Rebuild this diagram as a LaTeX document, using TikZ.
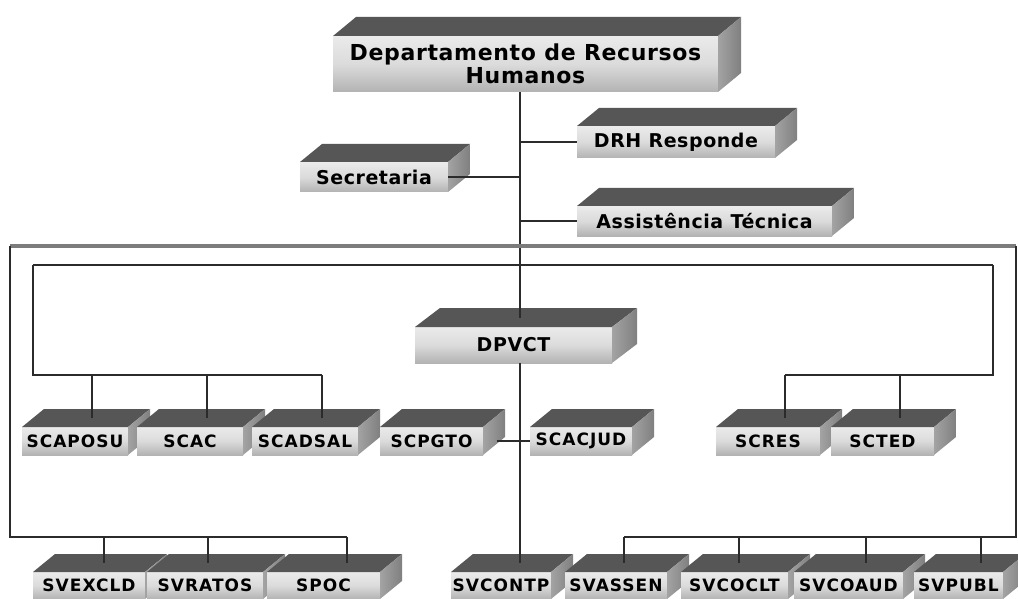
\documentclass[tikz,border=0pt]{standalone}
\usepackage{fontspec}
\setmainfont{DejaVu Sans}
\newfontfamily\bigfont{DejaVu Sans}[LetterSpace=3]
\newfontfamily\midfont{DejaVu Sans}[LetterSpace=3]
\newfontfamily\smlfont{DejaVu Sans}[LetterSpace=6]
\definecolor{topgrey}{HTML}{565656}
\definecolor{lineblack}{HTML}{2B2B2B}
\definecolor{busgrey}{HTML}{7C7C7C}

% depth of the extruded boxes (up and to the right)
\def\slabdx{22pt}
\def\slabdy{18pt}

% \slab[options]{name}{x0}{y0}{x1}{y1}{text}: front face plus top and side faces
\newcommand\slab[7][]{%
  \node[front,#1,anchor=north west,
        minimum width={(#5-#3)*1pt},minimum height={(#6-#4)*1pt}] (#2) at (#3,#4) {#7};
  \fill[topgrey] (#2.north west) -- ++(\slabdx,\slabdy)
     -- ([shift={(\slabdx,\slabdy)}]#2.north east) -- (#2.north east) -- cycle;
  \shade[left color=black!36,right color=black!50]
     (#2.north east) -- ++(\slabdx,\slabdy)
     -- ([shift={(\slabdx,\slabdy)}]#2.south east) -- (#2.south east) -- cycle;
  \coordinate (#2-top) at ([shift={(0.5*\slabdx,0.5*\slabdy)}]#2.north);
}

\begin{document}
\begin{tikzpicture}[x=1pt,y=-1pt,
  front/.style={rectangle,inner sep=0pt,outer sep=0pt,text=black,
    top color=black!8,bottom color=black!30,middle color=black!14,
    font=\smlfont\bfseries\fontsize{17}{19}\selectfont},
  bigtext/.style={font=\bigfont\bfseries\fontsize{22}{23}\selectfont,align=center},
  midtext/.style={font=\midfont\bfseries\fontsize{19}{21}\selectfont},
  conn/.style={draw=lineblack,line width=2pt},
  bus/.style={draw=busgrey,line width=3.5pt}]
\useasboundingbox[fill=white] (0,0) rectangle (1018,599);

% ---- boxes ----
{\def\slabdx{23pt}\def\slabdy{19pt}
 \slab[bigtext]{dep}{333}{36}{718}{92}{Departamento de Recursos\\Humanos}}
\slab[midtext]{drh}{577}{126}{775}{158}{DRH Responde}
\slab[midtext]{sec}{300}{162}{448}{192}{Secretaria}
\slab[midtext]{ast}{577}{206}{832}{236}{Assistência Técnica}
{\def\slabdx{25pt}\def\slabdy{19pt}
 \slab[midtext]{dpvct}{415}{327}{612}{363}{DPVCT}}

\slab{scaposu}{22}{427}{128}{455}{SCAPOSU}
\slab{scac}{137}{427}{243}{455}{SCAC}
\slab{scadsal}{252}{427}{358}{455}{SCADSAL}
\slab{scpgto}{380}{427}{483}{455}{SCPGTO}
\slab{scacjud}{530}{427}{632}{455}{SCACJUD}
\slab{scres}{716}{427}{820}{455}{SCRES}
\slab{scted}{831}{427}{934}{455}{SCTED}

\slab{svexcld}{33}{572}{145}{599}{SVEXCLD}
\slab{svratos}{147}{572}{263}{599}{SVRATOS}
\slab{spoc}{267}{572}{380}{599}{SPOC}
\slab{svcontp}{451}{572}{551}{599}{SVCONTP}
\slab{svassen}{565}{572}{667}{599}{SVASSEN}
\slab{svcoclt}{681}{572}{788}{599}{SVCOCLT}
\slab{svcoaud}{794}{572}{903}{599}{SVCOAUD}
\slab{svpubl}{914}{572}{1003}{599}{SVPUBL}

% ---- junctions and bus corners ----
\coordinate (sp)  at (520,246);
\coordinate (oNW) at (10,246);   \coordinate (oNE) at (1016,246);
\coordinate (oSW) at (10,537);   \coordinate (oSE) at (1016,537);
\coordinate (iNW) at (33,265);   \coordinate (iNE) at (993,265);
\coordinate (iSW) at (33,375);   \coordinate (iSE) at (993,375);

\coordinate (tap-scaposu) at (92,375);
\coordinate (tap-scac)    at (207,375);
\coordinate (tap-scadsal) at (322,375);
\coordinate (tap-scres)   at (785,375);
\coordinate (tap-scted)   at (900,375);
\coordinate (tap-svexcld) at (104,537);
\coordinate (tap-svratos) at (208,537);
\coordinate (tap-spoc)    at (347,537);
\coordinate (tap-svassen) at (624,537);
\coordinate (tap-svcoclt) at (739,537);
\coordinate (tap-svcoaud) at (866,537);
\coordinate (tap-svpubl)  at (981,537);

% ---- connectors ----
\draw[conn] (dep.south -| sp) -- (sp |- dpvct-top);
\draw[conn] (dpvct.south -| sp) -- (sp |- svcontp-top);
\draw[conn] (sp |- drh.west) -- (drh.west);
\draw[conn] (sec.east) -- (sec.east -| sp);
\draw[conn] (sp |- ast.west) -- (ast.west);

\draw[bus] (oNW) -- (oNE);
\draw[conn] (oNW) -- (oSW) -- (tap-spoc);
\draw[conn] (oNE) -- (oSE) -- (tap-svassen);
\draw[conn] (iNW) -- (iNE);
\draw[conn] (iNW) -- (iSW) -- (tap-scadsal);
\draw[conn] (iNE) -- (iSE) -- (tap-scres);

\foreach \n in {scaposu,scac,scadsal,scres,scted,
                svexcld,svratos,spoc,svassen,svcoclt,svcoaud,svpubl}
  \draw[conn] (tap-\n) -- (tap-\n |- \n-top);

\draw[conn] ([xshift=14pt]scpgto.east) -- (scacjud.west);
\end{tikzpicture}
\end{document}
